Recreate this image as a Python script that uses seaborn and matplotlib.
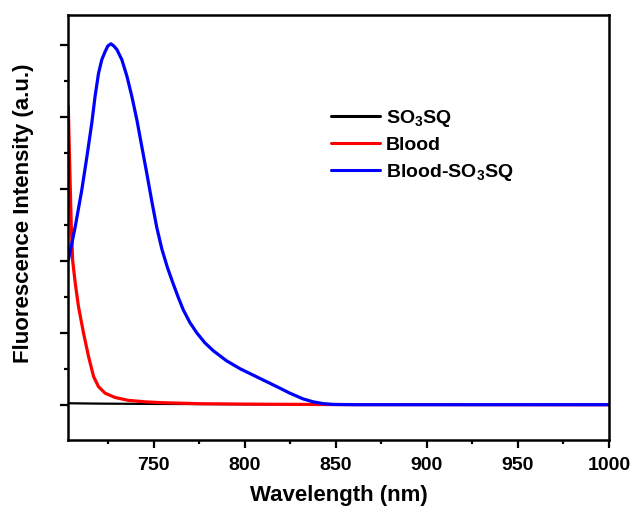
import numpy as np
import pandas as pd
import matplotlib
matplotlib.use("Agg")
import matplotlib.pyplot as plt
import seaborn as sns

# values (arbitrary units)
wl_probe = [703, 720, 740, 760, 780, 800, 850, 900, 1000]
probe = [0.02, 0.015, 0.012, 0.01, 0.008, 0.005, 0.003, 0.002, 0.001]

wl_blood = [703.0, 703.5, 704.0, 704.6, 705.4, 706.8, 708.6, 711.4, 714.1, 716.9,
            719.6, 723.2, 728.7, 736.1, 745.2, 754.4, 775.0, 808.0, 850, 1000]
blood = [4.14, 3.60, 3.10, 2.50, 2.00, 1.69, 1.36, 0.99, 0.67, 0.39,
         0.25, 0.16, 0.10, 0.06, 0.04, 0.028, 0.014, 0.007, 0.002, 0.0]

wl_mix = [703.1, 706.8, 710.4, 713.2, 715.9, 717.7, 719.6, 721.4, 723.2, 724.7,
          726.4, 728.0, 729.7, 732.4, 735.2, 737.9, 740.7, 743.4, 746.2, 748.9,
          751.6, 754.4, 757.5, 760.6, 763.4, 766.1, 769.8, 773.5, 778.0, 782.6,
          789.9, 797.3, 804.6, 811.9, 819.2, 824.7, 832.0, 837.5, 843.0, 848.5,
          860, 1000]
mix = [2.01, 2.47, 2.98, 3.44, 3.91, 4.28, 4.60, 4.79, 4.90, 4.98,
       5.01, 4.98, 4.93, 4.79, 4.56, 4.28, 3.95, 3.58, 3.20, 2.82,
       2.46, 2.16, 1.90, 1.68, 1.49, 1.32, 1.14, 1.00, 0.86, 0.75,
       0.61, 0.50, 0.41, 0.32, 0.23, 0.16, 0.08, 0.04, 0.015, 0.004,
       0.0, 0.0]

labels = [r"SO$_\mathbf{3}$SQ", "Blood", r"Blood-SO$_\mathbf{3}$SQ"]
colors = ["black", "#ff0000", "#0000ff"]

sns.set_theme(style="ticks")
plt.rcParams["font.family"] = ["Liberation Sans", "DejaVu Sans"]
plt.rcParams["font.weight"] = "bold"
plt.rcParams["text.color"] = "black"
plt.rcParams["axes.labelcolor"] = "black"
plt.rcParams["xtick.color"] = "black"
plt.rcParams["ytick.color"] = "black"
plt.rcParams["mathtext.fontset"] = "custom"
plt.rcParams["mathtext.rm"] = "Liberation Sans:bold"
plt.rcParams["mathtext.bf"] = "Liberation Sans:bold"
plt.rcParams["mathtext.it"] = "Liberation Sans:bold"

fig = plt.figure(figsize=(6.33, 5.11), dpi=100)
ax = fig.add_axes([68.3 / 633, 1 - 440 / 511, 540.7 / 633, 425 / 511])

sns.lineplot(x=wl_probe, y=probe, ax=ax, color=colors[0], linewidth=1.6, label=labels[0])
sns.lineplot(x=wl_blood, y=blood, ax=ax, color=colors[1], linewidth=2.3, label=labels[1])
sns.lineplot(x=wl_mix, y=mix, ax=ax, color=colors[2], linewidth=2.3, label=labels[2])

ax.set_xlim(703, 1000)
ax.set_ylim(-0.49, 5.41)
ax.set_xticks([750, 800, 850, 900, 950, 1000])
ax.set_xticks(np.arange(725, 1000, 50), minor=True)
ax.set_yticks(np.arange(0, 5.5, 1))
ax.set_yticks(np.arange(0.5, 5.5, 1), minor=True)
ax.set_yticklabels([])

for s in ax.spines.values():
    s.set_linewidth(1.8)
    s.set_color("black")
ax.tick_params(which="major", direction="out", length=6, width=1.6, color="black",
               labelsize=14, pad=6, labelcolor="black")
ax.tick_params(which="minor", direction="out", length=3, width=1.6, color="black")
for t in ax.get_xticklabels():
    t.set_fontweight("bold")

ax.set_xlabel("Wavelength (nm)", fontsize=16, fontweight="bold", labelpad=8)
ax.set_ylabel("Fluorescence Intensity (a.u.)", fontsize=16, fontweight="bold")
ax.yaxis.set_label_coords(-0.063, 0.533)

leg = ax.legend(loc="upper left", bbox_to_anchor=(0.454, 0.823), frameon=False,
                fontsize=14, handlelength=2.5, handletextpad=0.3, labelspacing=0.4)
for line in leg.get_lines():
    line.set_linewidth(2.2)
for t in leg.get_texts():
    t.set_fontweight("bold")
    t.set_color("black")

fig.savefig("out.png", dpi=100)
